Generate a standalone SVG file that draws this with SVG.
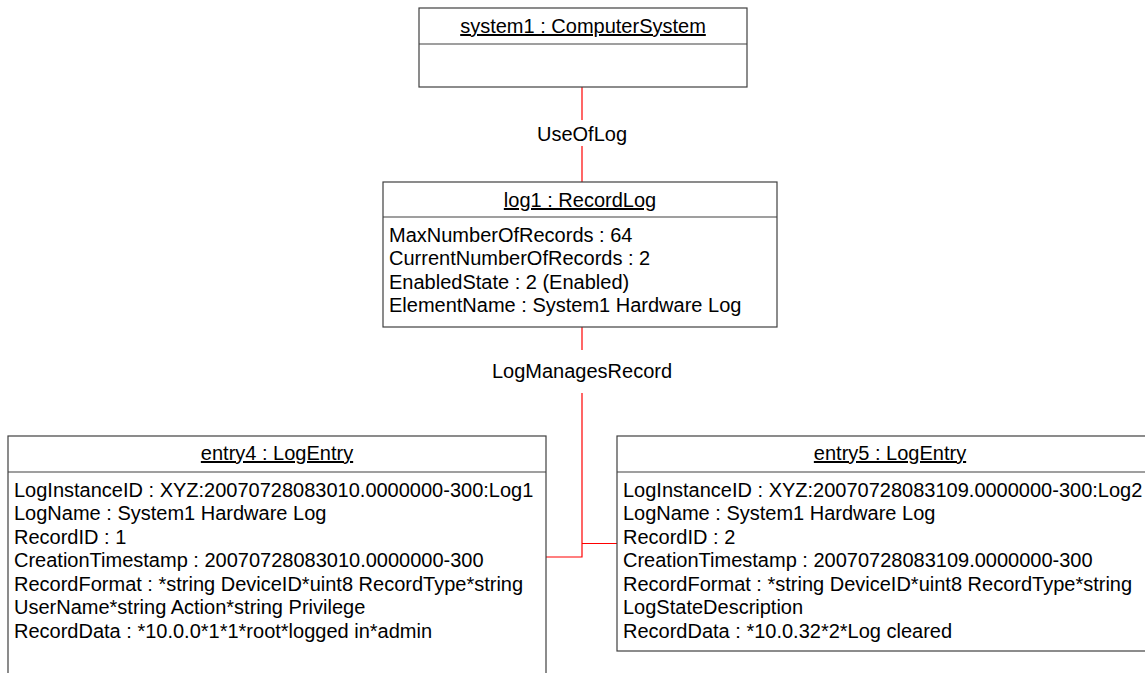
<svg xmlns="http://www.w3.org/2000/svg" width="1145" height="673" viewBox="0 0 1145 673">
<style>
.box{fill:#fff;stroke:#404040;stroke-width:1.2}
.div{stroke:#404040;stroke-width:1.2}
text{font-family:"Liberation Sans",Arial,sans-serif;font-size:20px;fill:#000}
.title{text-anchor:middle;text-decoration:underline}
.lbl{text-anchor:middle}
.conn{stroke:#ff0000;stroke-width:1.2;fill:none}
</style>
<rect width="1145" height="673" fill="#fff"/>
<g id="connectors">
<line class="conn" x1="582" y1="87" x2="582" y2="120"/>
<line class="conn" x1="582" y1="146" x2="582" y2="182"/>
<text class="lbl" x="582" y="141">UseOfLog</text>
<line class="conn" x1="582" y1="327" x2="582" y2="350"/>
<polyline class="conn" points="582,393 582,557 546,557"/>
<line class="conn" x1="582" y1="543.5" x2="617" y2="543.5"/>
<text class="lbl" x="582" y="378">LogManagesRecord</text>
</g>
<g id="system1">
<rect class="box" x="419" y="8" width="328" height="79"/>
<line class="div" x1="419" y1="44" x2="747" y2="44"/>
<text class="title" x="583" y="33">system1 : ComputerSystem</text>
</g>
<g id="log1">
<rect class="box" x="383" y="182" width="394" height="145"/>
<line class="div" x1="383" y1="217" x2="777" y2="217"/>
<text class="title" x="580" y="207">log1 : RecordLog</text>
<text x="389" y="241.5">MaxNumberOfRecords : 64</text>
<text x="389" y="265">CurrentNumberOfRecords : 2</text>
<text x="389" y="288.5">EnabledState : 2 (Enabled)</text>
<text x="389" y="312">ElementName : System1 Hardware Log</text>
</g>
<g id="entry4">
<rect class="box" x="8" y="436" width="538" height="260"/>
<line class="div" x1="8" y1="472" x2="546" y2="472"/>
<text class="title" x="277" y="460">entry4 : LogEntry</text>
<text x="14" y="496.5">LogInstanceID : XYZ:20070728083010.0000000-300:Log1</text>
<text x="14" y="520">LogName : System1 Hardware Log</text>
<text x="14" y="543.5">RecordID : 1</text>
<text x="14" y="567">CreationTimestamp : 20070728083010.0000000-300</text>
<text x="14" y="590.5">RecordFormat : *string DeviceID*uint8 RecordType*string</text>
<text x="14" y="614">UserName*string Action*string Privilege</text>
<text x="14" y="637.5">RecordData : *10.0.0*1*1*root*logged in*admin</text>
</g>
<g id="entry5">
<rect class="box" x="617" y="436" width="546" height="215"/>
<line class="div" x1="617" y1="472" x2="1163" y2="472"/>
<text class="title" x="890" y="460">entry5 : LogEntry</text>
<text x="623" y="496.5">LogInstanceID : XYZ:20070728083109.0000000-300:Log2</text>
<text x="623" y="520">LogName : System1 Hardware Log</text>
<text x="623" y="543.5">RecordID : 2</text>
<text x="623" y="567">CreationTimestamp : 20070728083109.0000000-300</text>
<text x="623" y="590.5">RecordFormat : *string DeviceID*uint8 RecordType*string</text>
<text x="623" y="614">LogStateDescription</text>
<text x="623" y="637.5">RecordData : *10.0.32*2*Log cleared</text>
</g>
</svg>
